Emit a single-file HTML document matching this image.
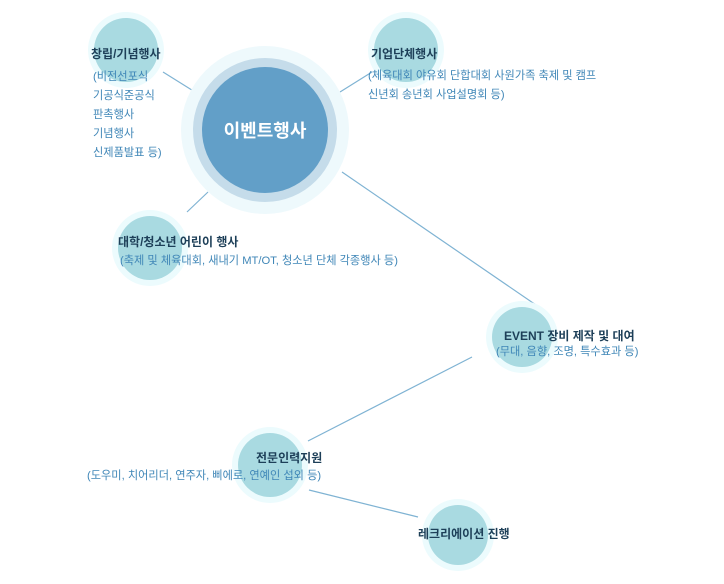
<!DOCTYPE html>
<html><head><meta charset="utf-8"><style>
body{margin:0;width:724px;height:584px;background:#fff;overflow:hidden;font-family:"Liberation Sans","Noto Sans CJK KR",sans-serif}
svg{position:absolute;left:0;top:0}
.t{position:absolute;white-space:nowrap;font-size:12px;line-height:19px}
.h{font-weight:bold;color:#1d3f58;font-size:12px}
.s{color:#3f86b7;font-size:11.2px}
</style></head><body>
<svg width="724" height="584">
<g stroke="#7fb3d3" stroke-width="1.2">
<line x1="163" y1="72" x2="195" y2="92"/>
<line x1="340" y1="92" x2="372" y2="72"/>
<line x1="187" y1="212" x2="208" y2="192"/>
<line x1="342" y1="172" x2="536" y2="305"/>
<line x1="472" y1="357" x2="308" y2="441"/>
<line x1="309" y1="490" x2="418" y2="517"/>
</g>
<circle cx="265" cy="130" r="84" fill="#eef9fc"/>
<circle cx="265" cy="130" r="72" fill="#c5dcea"/>
<circle cx="265" cy="130" r="63" fill="#629fc8"/>
<g fill="#ecfbfd"><circle cx="126" cy="50" r="38"/><circle cx="406" cy="50" r="38"/><circle cx="150" cy="248" r="38"/><circle cx="522" cy="337" r="36"/><circle cx="270" cy="465" r="38"/><circle cx="458" cy="535" r="36"/></g>
<g fill="#a9dae1"><circle cx="126" cy="50" r="32"/><circle cx="406" cy="50" r="32"/><circle cx="150" cy="248" r="32"/><circle cx="522" cy="337" r="30"/><circle cx="270" cy="465" r="32"/><circle cx="458" cy="535" r="30"/></g>
<text x="265" y="137" text-anchor="middle" fill="#fff" font-size="18" font-weight="bold" font-family="Liberation Sans,Noto Sans CJK KR,sans-serif">이벤트행사</text>
</svg>
<div class="t h" style="left:91px;top:45px">창립/기념행사</div>
<div class="t s" style="left:93px;top:68px">(비전선포식<br>기공식준공식<br>판촉행사<br>기념행사<br>신제품발표 등)</div>
<div class="t h" style="left:371px;top:45px">기업단체행사</div>
<div class="t s" style="left:368px;top:67px">(체육대회 야유회 단합대회 사원가족 축제 및 캠프<br>신년회 송년회 사업설명회 등)</div>
<div class="t h" style="left:118px;top:233px">대학/청소년 어린이 행사</div>
<div class="t s" style="left:120px;top:252px">(축제 및 체육대회, 새내기 MT/OT, 청소년 단체 각종행사 등)</div>
<div class="t h" style="left:504px;top:327px">EVENT 장비 제작 및 대여</div>
<div class="t s" style="left:496px;top:343px">(무대, 음향, 조명, 특수효과 등)</div>
<div class="t h" style="left:256px;top:449px">전문인력지원</div>
<div class="t s" style="left:87px;top:467px">(도우미, 치어리더, 연주자, 삐에로, 연예인 섭외 등)</div>
<div class="t h" style="left:418px;top:525px">레크리에이션 진행</div>
</body></html>
